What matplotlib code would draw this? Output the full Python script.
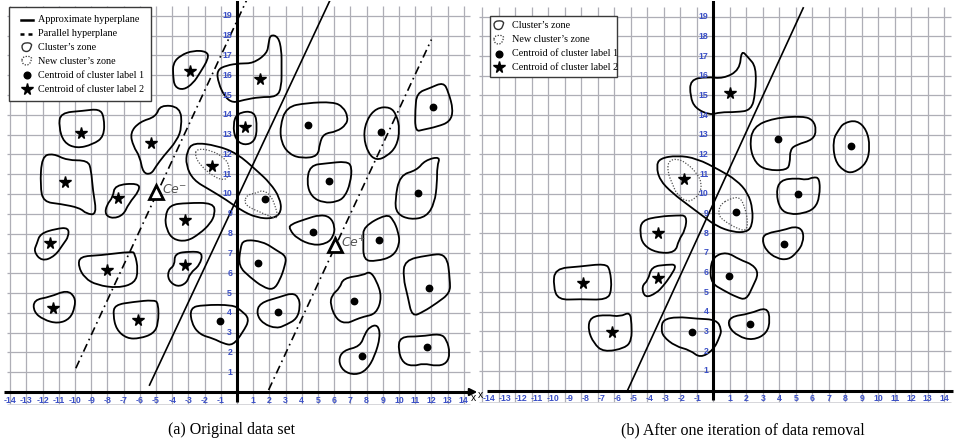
import numpy as np
import matplotlib.pyplot as plt
from matplotlib.path import Path
from matplotlib.patches import PathPatch, Rectangle

W, H = 956, 442

# ---------------- panel (a): original data set ----------------
a_zones = [
    [(-10.9, 14.1), (-9.5, 14.2), (-8.5, 14.3), (-8.2, 13.9), (-8.2, 12.9), (-8.9, 12.5), (-9.9, 12.3), (-10.7, 12.6), (-11.0, 13.4)],
    [(-4.75, 14.5), (-3.5, 14.4), (-3.4, 13.4), (-3.7, 12.7), (-4.55, 11.9), (-5.0, 11.4), (-5.3, 11.0), (-5.8, 11.05), (-6.0, 11.9), (-6.4, 12.4), (-6.6, 13.1), (-6.0, 13.65), (-5.0, 13.9)],
    [(-12.05, 11.9), (-11.35, 12.05), (-10.5, 11.7), (-9.2, 11.7), (-9.0, 11.2), (-8.9, 10.2), (-8.65, 8.95), (-9.3, 9.0), (-9.7, 9.3), (-10.9, 9.5), (-11.95, 9.6), (-12.15, 10.4)],
    [(-7.55, 10.45), (-6.1, 10.55), (-6.0, 10.2), (-6.7, 9.5), (-7.0, 8.95), (-7.65, 8.75), (-8.15, 8.95), (-8.05, 9.45), (-7.65, 9.85)],
    [(-4.15, 9.45), (-3.1, 9.55), (-1.45, 9.55), (-1.35, 9.0), (-1.65, 8.5), (-2.3, 8.0), (-3.1, 7.6), (-3.95, 7.7), (-4.35, 8.2), (-4.45, 8.85)],
    [(-2.7, 12.6), (-1.25, 12.45), (0.0, 12.05), (1.2, 11.2), (2.05, 10.55), (2.65, 9.8), (2.75, 9.1), (2.25, 8.75), (1.2, 8.8), (0.2, 9.2), (-0.65, 9.7), (-1.65, 10.2), (-2.7, 10.7), (-3.15, 11.45), (-3.1, 12.15)],
    [(-3.95, 16.6), (-3.5, 17.0), (-2.7, 17.25), (-1.85, 17.2), (-1.75, 16.85), (-2.3, 16.1), (-2.7, 15.6), (-3.3, 15.25), (-3.85, 15.4), (-3.95, 16.0)],
    [(2.05, 18.05), (2.55, 17.95), (2.75, 17.25), (2.75, 16.45), (2.75, 15.4), (2.45, 14.9), (1.4, 14.9), (0.4, 14.75), (-0.25, 14.6), (-0.75, 14.9), (-1.15, 15.6), (-1.25, 16.25), (-0.65, 16.5), (0.2, 16.6), (1.0, 16.6), (1.85, 17.1), (1.95, 17.6)],
    [(0.0, 14.1), (1.1, 14.2), (1.25, 13.35), (1.1, 12.65), (0.45, 12.45), (-0.1, 12.75), (-0.25, 13.5)],
    [(3.05, 14.4), (4.3, 14.6), (5.95, 14.65), (6.55, 14.4), (6.85, 13.9), (6.75, 13.5), (6.15, 13.15), (5.35, 13.05), (5.1, 12.55), (5.0, 11.9), (4.0, 11.8), (3.25, 12.0), (2.75, 12.55), (2.65, 13.4)],
    [(8.6, 14.35), (9.45, 14.4), (9.85, 14.0), (10.05, 13.25), (9.85, 12.4), (9.25, 11.9), (8.6, 11.7), (8.1, 12.05), (7.8, 12.9), (8.0, 13.75)],
    [(11.1, 15.1), (11.9, 15.35), (12.75, 15.65), (13.05, 15.15), (13.35, 14.25), (13.15, 13.65), (12.35, 13.4), (11.5, 13.25), (11.0, 13.15), (11.0, 14.25)],
    [(4.5, 11.45), (5.55, 11.55), (6.75, 11.65), (7.1, 11.4), (7.0, 10.55), (6.65, 9.85), (6.15, 9.6), (5.35, 9.55), (4.6, 9.85), (4.3, 10.55)],
    [(11.6, 11.7), (12.55, 11.9), (12.35, 11.4), (12.35, 10.55), (12.2, 9.55), (11.7, 8.85), (10.7, 8.7), (9.85, 9.0), (9.75, 9.7), (10.05, 10.95), (11.1, 11.2)],
    [(0.4, 7.7), (1.6, 7.6), (2.45, 7.15), (3.05, 6.85), (2.95, 6.35), (2.65, 5.65), (2.25, 5.15), (1.6, 5.3), (0.8, 5.8), (0.1, 6.35), (0.2, 7.25)],
    [(1.4, 4.5), (2.65, 4.8), (3.4, 5.0), (3.8, 4.8), (3.9, 4.3), (3.7, 3.7), (3.05, 3.4), (2.45, 3.2), (1.6, 3.45), (1.2, 3.95)],
    [(6.55, 5.75), (7.8, 5.9), (8.2, 6.1), (8.6, 5.65), (8.95, 4.8), (8.6, 3.95), (7.8, 3.8), (7.3, 3.65), (6.75, 3.45), (6.15, 3.65), (5.75, 4.4), (5.85, 4.9), (6.35, 5.25)],
    [(10.35, 6.65), (11.7, 6.9), (12.95, 7.0), (13.15, 5.65), (13.15, 5.0), (12.35, 4.5), (11.5, 4.05), (10.8, 3.8), (10.55, 4.8), (10.25, 5.8)],
    [(8.2, 3.3), (8.7, 3.4), (8.85, 2.8), (8.5, 1.8), (8.0, 1.1), (7.3, 0.85), (6.55, 1.05), (6.25, 1.6), (6.55, 2.1), (7.6, 2.3), (7.9, 2.95)],
    [(10.05, 2.8), (11.3, 2.8), (12.55, 2.95), (12.95, 2.65), (13.15, 1.95), (12.95, 1.45), (12.35, 1.3), (11.5, 1.45), (10.9, 1.3), (10.25, 1.45), (9.95, 2.1)],
    [(7.8, 8.35), (9.25, 9.0), (9.65, 8.7), (9.95, 8.1), (10.05, 7.5), (9.65, 6.85), (8.6, 6.6), (7.8, 6.65), (7.8, 7.7)],
    [(3.25, 8.45), (4.3, 8.75), (5.1, 8.95), (5.75, 8.85), (6.05, 8.35), (5.95, 7.85), (5.55, 7.5), (4.7, 7.4), (3.7, 7.75), (3.25, 8.2)],
    [(-2.9, 4.25), (-2.1, 4.4), (-0.25, 4.4), (0.2, 4.15), (0.8, 3.7), (0.35, 3.0), (-0.25, 2.35), (-0.85, 2.45), (-1.45, 2.7), (-2.3, 2.9), (-2.8, 3.45)],
    [(-7.55, 4.4), (-6.4, 4.55), (-5.15, 4.65), (-4.85, 4.5), (-4.85, 3.45), (-5.15, 2.95), (-6.0, 2.7), (-6.8, 2.7), (-7.45, 3.15), (-7.65, 3.9)],
    [(-12.55, 4.65), (-11.55, 4.8), (-10.5, 5.15), (-10.0, 4.8), (-10.0, 4.3), (-10.3, 3.7), (-11.05, 3.45), (-11.95, 3.65), (-12.55, 4.05)],
    [(-9.7, 6.85), (-8.45, 6.9), (-6.5, 7.1), (-6.3, 7.0), (-6.1, 6.15), (-6.3, 5.5), (-7.35, 5.25), (-8.65, 5.4), (-9.4, 5.75), (-9.8, 6.35)],
    [(-3.85, 7.0), (-2.9, 7.1), (-2.1, 7.05), (-2.3, 6.4), (-2.9, 6.0), (-3.1, 5.5), (-3.7, 5.3), (-4.25, 5.65), (-4.25, 6.15), (-3.85, 6.4)],
    [(-12.15, 8.0), (-11.15, 8.25), (-10.4, 8.3), (-10.4, 7.85), (-10.7, 7.5), (-11.25, 6.85), (-12.05, 6.6), (-12.55, 7.1), (-12.35, 7.5)],
]
a_new_zones = [
    [(-2.5, 12.3), (-1.55, 12.2), (-0.75, 11.8), (-0.45, 11.4), (-0.55, 10.8), (-0.95, 10.7), (-1.55, 10.95), (-2.2, 11.4), (-2.6, 11.9)],
    [(0.6, 9.95), (1.2, 10.05), (1.6, 10.2), (2.05, 9.95), (2.35, 9.45), (2.55, 8.75), (2.05, 8.85), (1.4, 9.1), (0.8, 9.3), (0.45, 9.55)],
]
a_label1 = [(1.75, 9.75), (4.4, 13.5), (8.9, 13.15), (12.1, 14.4), (5.65, 10.65), (11.2, 10.05), (8.75, 7.7), (4.7, 8.1),
            (1.3, 6.5), (2.55, 4.05), (7.2, 4.6), (11.85, 5.25), (7.7, 1.8), (11.7, 2.25), (-1.05, 3.6)]
a_label2 = [(-9.6, 13.1), (-5.3, 12.6), (-2.9, 16.2), (1.4, 15.8), (0.5, 13.4), (-1.55, 11.4), (-10.6, 10.6), (-7.35, 9.8),
            (-3.2, 8.7), (-11.55, 7.55), (-8.0, 6.15), (-3.2, 6.4), (-11.35, 4.25), (-6.1, 3.65)]
a_hyperplane = [(-5.4, 0.35), (5.75, 19.8)]
a_parallel = [[(-9.95, 1.2), (0.6, 19.8)], [(1.95, 0.1), (12.0, 17.8)]]
a_ce = [(-5.0, 10.1, r'$Ce^{-}$'), (6.05, 7.4, r'$Ce^{+}$')]

# ---------------- panel (b): after one iteration ----------------
b_zones = [
    [(-1.4, 15.8), (-0.4, 15.95), (0.6, 15.85), (1.6, 16.3), (1.7, 17.3), (2.1, 16.95), (2.6, 16.45), (2.55, 15.1), (2.3, 14.25), (1.4, 14.15), (0.4, 14.15), (-0.2, 14.0), (-1.1, 14.35), (-1.4, 14.95)],
    [(2.4, 13.4), (3.65, 13.85), (5.45, 13.95), (6.05, 13.75), (6.25, 13.25), (6.05, 12.75), (5.05, 12.5), (4.65, 12.25), (4.65, 11.55), (4.45, 11.2), (3.25, 11.2), (2.55, 11.55), (2.2, 12.4)],
    [(7.9, 13.6), (8.7, 13.75), (9.3, 13.25), (9.5, 12.4), (9.3, 11.55), (8.5, 11.05), (7.9, 11.15), (7.35, 11.7), (7.25, 12.75), (7.6, 13.25)],
    [(4.05, 10.7), (5.05, 10.8), (5.65, 10.7), (6.05, 10.85), (6.45, 10.8), (6.45, 9.85), (6.15, 9.25), (5.45, 9.0), (4.65, 8.95), (4.05, 9.2), (3.8, 10.05)],
    [(3.25, 8.0), (4.25, 8.15), (4.95, 8.35), (5.45, 8.15), (5.45, 7.5), (5.05, 7.0), (4.55, 6.65), (3.85, 6.7), (3.15, 7.15), (2.95, 7.75)],
    [(0.0, 6.8), (0.8, 7.05), (1.6, 6.65), (2.4, 6.4), (2.75, 5.95), (2.4, 5.3), (2.0, 4.6), (1.4, 4.75), (0.6, 5.1), (-0.1, 5.45), (-0.2, 6.15)],
    [(1.0, 3.75), (2.2, 3.9), (3.25, 4.25), (3.45, 3.6), (3.25, 2.9), (2.4, 2.55), (1.5, 2.75), (0.9, 3.25)],
    [(-3.05, 3.6), (-2.2, 3.75), (-1.0, 3.65), (0.2, 3.6), (0.5, 3.1), (0.4, 2.75), (0.0, 2.05), (-0.8, 1.65), (-1.4, 2.05), (-2.3, 2.25), (-3.05, 2.75), (-3.15, 3.15)],
    [(-7.45, 3.75), (-6.45, 3.85), (-5.65, 3.75), (-5.05, 4.0), (-4.95, 3.4), (-4.95, 2.55), (-5.35, 2.15), (-6.65, 1.95), (-7.25, 2.4), (-7.6, 3.1)],
    [(-9.6, 6.2), (-8.1, 6.3), (-6.55, 6.45), (-6.25, 6.15), (-6.15, 5.1), (-6.45, 4.6), (-8.1, 4.65), (-9.4, 4.6), (-9.7, 5.3)],
    [(-3.75, 6.3), (-2.8, 6.4), (-2.2, 6.4), (-2.6, 5.8), (-3.05, 5.3), (-3.45, 4.95), (-4.15, 4.7), (-4.35, 5.3), (-3.95, 5.6)],
    [(-4.35, 8.65), (-3.25, 8.85), (-2.2, 8.9), (-1.6, 8.9), (-1.7, 8.15), (-2.1, 7.65), (-2.3, 7.0), (-3.45, 7.0), (-4.25, 7.4), (-4.45, 8.0)],
    [(-3.25, 11.8), (-2.2, 11.95), (-1.0, 11.8), (0.4, 11.2), (1.4, 10.7), (2.1, 10.05), (2.4, 9.2), (2.35, 8.35), (2.0, 8.05), (1.2, 8.05), (0.2, 8.35), (-0.6, 8.85), (-1.4, 9.35), (-2.5, 10.05), (-3.25, 10.7), (-3.45, 11.4)],
]
b_new_zones = [
    [(-2.75, 11.65), (-2.2, 11.8), (-1.6, 11.55), (-1.0, 11.05), (-0.7, 10.55), (-0.8, 10.05), (-1.2, 9.7), (-1.6, 9.6), (-2.2, 9.95), (-2.5, 10.55), (-2.75, 11.05)],
    [(1.0, 9.75), (1.6, 9.85), (1.9, 9.35), (2.1, 8.6), (2.0, 8.1), (1.4, 8.25), (0.7, 8.6), (0.3, 8.9), (0.4, 9.45)],
]
b_label1 = [(1.4, 9.1), (3.95, 12.8), (8.35, 12.45), (5.15, 10.0), (4.3, 7.45), (0.95, 5.8), (2.2, 3.4), (-1.3, 2.95)]
b_label2 = [(1.0, 15.1), (-1.75, 10.75), (-3.35, 8.0), (-3.35, 5.7), (-7.9, 5.45), (-6.15, 2.95)]
b_hyperplane = [(-5.2, 0.0), (5.45, 19.45)]

x_ticks = [v for v in range(-14, 15) if v != 0]
y_ticks = list(range(1, 20))

TICK_BLUE = '#3a4fc6'
SERIF = ['Liberation Serif', 'DejaVu Serif']


def smooth_path(pts):
    # closed quadratic spline through the mid-points of the outline
    p = np.asarray(pts, float)
    mids = (p + np.roll(p, -1, axis=0)) / 2
    verts = [mids[-1]]
    codes = [Path.MOVETO]
    for i in range(len(p)):
        verts += [p[i], mids[i]]
        codes += [Path.CURVE3, Path.CURVE3]
    return Path(verts, codes)


def place_axes(fig, x0, ux, y0, uy, xlim, ylim):
    # axes so that data (0,0) sits at pixel (x0, y0), ux/uy pixels per unit
    left = x0 + ux * xlim[0]
    right = x0 + ux * xlim[1]
    top = y0 - uy * ylim[1]
    bottom = y0 - uy * ylim[0]
    ax = fig.add_axes([left / W, 1 - bottom / H, (right - left) / W, (bottom - top) / H])
    ax.set_xlim(*xlim)
    ax.set_ylim(*ylim)
    ax.axis('off')
    return ax


def draw_panel(ax, zones, new_zones, lab1, lab2, hyper, parallels, ces, axis_start, neg_squeeze):
    ax.vlines(range(-14, 15), -0.6, 19.5, color='#aeaeb6', lw=0.9, zorder=0)
    ax.hlines(range(1, 20), -14.2, 14.4, color='#aeaeb6', lw=0.9, zorder=0)
    ax.hlines(-0.6, -14.2, 14.4, color='#d0d0d4', lw=0.6, zorder=0)

    # axes lines
    ax.plot([axis_start, 14.5], [0, 0], color='k', lw=2.2, zorder=3, solid_capstyle='butt')
    ax.annotate('', xy=(15.0, 0), xytext=(14.3, 0),
                arrowprops=dict(arrowstyle='-|>', color='k', lw=1.5, mutation_scale=11), zorder=3)
    ax.plot([0, 0], [-0.5, 19.9], color='k', lw=2.2, zorder=3, solid_capstyle='butt')

    for x in x_ticks:
        xp = x * neg_squeeze if x < 0 else x
        ax.text(xp, -0.42, str(x), ha='center', va='center', color=TICK_BLUE,
                fontsize=6.3, fontweight='bold', family='Liberation Sans', zorder=4)
    for y in y_ticks:
        ax.text(-0.3, y, str(y), ha='right', va='center', color=TICK_BLUE,
                fontsize=6.3, fontweight='bold', family='Liberation Sans', zorder=4)

    for z in zones:
        ax.add_patch(PathPatch(smooth_path(z), fill=False, ec='k', lw=1.3, zorder=2))
    for z in new_zones:
        ax.add_patch(PathPatch(smooth_path(z), fill=False, ec='#505050', lw=0.9,
                               linestyle=(0, (1, 1.3)), zorder=2))

    (x1, y1), (x2, y2) = hyper
    ax.plot([x1, x2], [y1, y2], color='k', lw=1.2, zorder=2)
    for (px1, py1), (px2, py2) in parallels:
        ax.plot([px1, px2], [py1, py2], color='k', lw=1.2, linestyle=(0, (5, 2.5, 1, 2.5)), zorder=2)

    ax.plot([p[0] for p in lab1], [p[1] for p in lab1], 'o', color='k', ms=4.6, zorder=5)
    ax.plot([p[0] for p in lab2], [p[1] for p in lab2], '*', color='k', ms=8.5, zorder=5)

    for cx, cy, lab in ces:
        ax.plot(cx, cy, '^', ms=10, mfc='white', mec='k', mew=2.0, zorder=6)
        ax.text(cx + 0.4, cy + 0.15, lab, fontsize=9, color='#555555', ha='left', va='center', zorder=6)


fig = plt.figure(figsize=(W / 100, H / 100), dpi=100)
fig.patch.set_facecolor('white')

ax_a = place_axes(fig, 237.0, 16.2, 392.0, 19.8, (-14.6, 15.0), (-1.5, 19.75))
draw_panel(ax_a, a_zones, a_new_zones, a_label1, a_label2, a_hyperplane, a_parallel, a_ce, -14.4, 1.0)
ax_a.text(14.62, -0.3, 'x', fontsize=7.5, ha='center', va='center', family='Liberation Sans')

ax_b = place_axes(fig, 713.3, 16.5, 390.5, 19.67, (-14.4, 14.7), (-1.5, 19.8))
draw_panel(ax_b, b_zones, b_new_zones, b_label1, b_label2, b_hyperplane, [], [], -13.7, 0.97)
ax_b.text(-14.1, -0.25, 'x', fontsize=7.5, ha='center', va='center', family='Liberation Sans')

# legends and captions drawn on a pixel overlay
lax = fig.add_axes([0, 0, 1, 1])
lax.set_xlim(0, W)
lax.set_ylim(H, 0)
lax.axis('off')

blob = [(-5, -3), (-1, -5), (5, -4), (4, 0), (2, 4), (-3, 4), (-5, 1)]


def legend_blob(cx, cy, dotted):
    pts = [(cx + dx, cy + dy) for dx, dy in blob]
    if dotted:
        lax.add_patch(PathPatch(smooth_path(pts), fill=False, ec='#333', lw=0.9, linestyle=(0, (1, 1.2))))
    else:
        lax.add_patch(PathPatch(smooth_path(pts), fill=False, ec='#333', lw=1.0))


def legend(x, y, w, h, rows, sx, tx):
    lax.add_patch(Rectangle((x, y), w, h, fc='white', ec='#3a3a3a', lw=1.0, zorder=1))
    for ry, kind, label in rows:
        if kind == 'solid':
            lax.plot([sx - 6, sx + 6], [ry, ry], color='k', lw=1.8)
        elif kind == 'dash':
            lax.plot([sx - 7, sx - 3], [ry, ry], color='k', lw=1.8, solid_capstyle='butt')
            lax.plot([sx + 1, sx + 5], [ry, ry], color='k', lw=1.8, solid_capstyle='butt')
        elif kind == 'zone':
            legend_blob(sx, ry, False)
        elif kind == 'new':
            legend_blob(sx, ry, True)
        elif kind == 'dot':
            lax.plot(sx, ry, 'o', color='k', ms=4.8)
        elif kind == 'star':
            lax.plot(sx, ry, '*', color='k', ms=8.5)
        lax.text(tx, ry, label, fontsize=7.3, family=SERIF, ha='left', va='center')


legend(9, 7, 142, 94, [
    (20, 'solid', 'Approximate hyperplane'),
    (33.5, 'dash', 'Parallel hyperplane'),
    (47.5, 'zone', 'Cluster\u2019s zone'),
    (61, 'new', 'New cluster\u2019s zone'),
    (75, 'dot', 'Centroid of cluster label 1'),
    (89, 'star', 'Centroid of cluster label 2'),
], 27, 38)

legend(490, 16, 127, 61, [
    (25.5, 'zone', 'Cluster\u2019s zone'),
    (40, 'new', 'New cluster\u2019s zone'),
    (53.5, 'dot', 'Centroid of cluster label 1'),
    (67, 'star', 'Centroid of cluster label 2'),
], 499, 512)

lax.text(232, 430, '(a) Original data set', fontsize=11.5, family=SERIF, ha='center', va='center')
lax.text(743, 430, '(b) After one iteration of data removal', fontsize=11.5, family=SERIF, ha='center', va='center')

fig.savefig('out.png', dpi=100, facecolor='white')
